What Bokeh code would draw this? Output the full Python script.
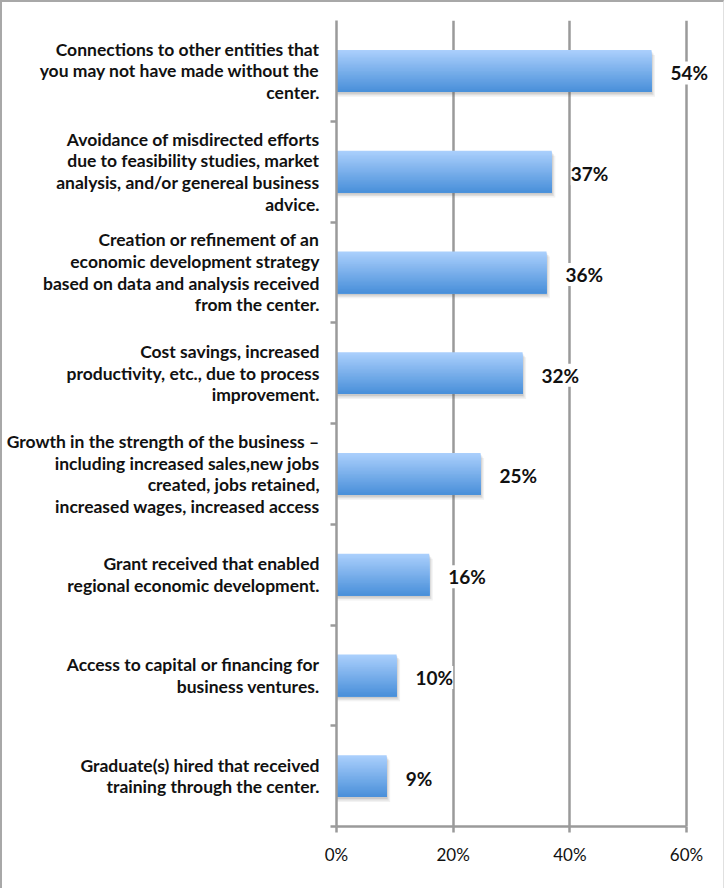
from bokeh.plotting import figure
from bokeh.models import Range1d, FixedTicker, PrintfTickFormatter, ColumnDataSource, LabelSet
from bokeh.core.properties import value
from bokeh.embed import file_html
from bokeh.resources import INLINE

categories = [
    "Connections to other entities that\nyou may not have made without the\ncenter.",
    "Avoidance of misdirected efforts\ndue to feasibility studies, market\nanalysis, and/or genereal business\nadvice.",
    "Creation or refinement of an\neconomic development strategy\nbased on data and analysis received\nfrom the center.",
    "Cost savings, increased\nproductivity, etc., due to process\nimprovement.",
    "Growth in the strength of the business \u2013\nincluding increased sales,new jobs\ncreated, jobs retained,\nincreased wages, increased access",
    "Grant received that enabled\nregional economic development.",
    "Access to capital or financing for\nbusiness ventures.",
    "Graduate(s) hired that received\ntraining through the center.",
]
values = [54.0, 36.9, 36.0, 31.9, 24.7, 15.9, 10.3, 8.6]
value_labels = ["54%", "37%", "36%", "32%", "25%", "16%", "10%", "9%"]
x_ticks = [0, 20, 40, 60]

n = len(categories)
ys = list(range(n))

FONT = "Lato"
GRAY = "#9a9a9a"
AXIS_MAX = 60
FRAME_W = 387
PX_PER_UNIT = 350 / AXIS_MAX

p = figure(
    frame_width=FRAME_W, frame_height=806,
    min_border_left=334, min_border_right=0, min_border_top=18, min_border_bottom=62,
    x_range=Range1d(0, FRAME_W / PX_PER_UNIT), y_range=Range1d(n - 0.5, -0.5),
    output_backend="svg", toolbar_location=None, tools="",
)
p.outline_line_color = None
p.background_fill_color = "white"
p.border_fill_color = "white"
p.styles = {"border-left": "2px solid #a8a8a8", "border-top": "2px solid #a8a8a8",
            "border-right": "1px solid #e0e0e0"}

# grid
p.ygrid.grid_line_color = None
p.xgrid.ticker = FixedTicker(ticks=x_ticks)
p.xgrid.grid_line_color = GRAY
p.xgrid.grid_line_width = 2.5

# x axis
p.xaxis.ticker = FixedTicker(ticks=x_ticks)
p.xaxis.bounds = (0, AXIS_MAX)
p.xaxis.formatter = PrintfTickFormatter(format="%d%%")
p.xaxis.axis_line_color = GRAY
p.xaxis.axis_line_width = 2.5
p.xaxis.major_tick_line_color = GRAY
p.xaxis.major_tick_line_width = 2.5
p.xaxis.major_tick_out = 6
p.xaxis.major_tick_in = 0
p.xaxis.minor_tick_line_color = None
p.xaxis.major_label_text_font = FONT
p.xaxis.major_label_text_font_size = "17px"
p.xaxis.major_label_text_color = "#111111"
p.xaxis.major_label_standoff = 11

# y axis
p.yaxis.ticker = FixedTicker(ticks=ys, minor_ticks=[i + 0.5 for i in ys])
p.yaxis.major_label_overrides = {i: c for i, c in enumerate(categories)}
p.yaxis.axis_line_color = GRAY
p.yaxis.axis_line_width = 2.5
p.yaxis.major_tick_line_color = None
p.yaxis.major_tick_out = 0
p.yaxis.major_tick_in = 0
p.yaxis.minor_tick_line_color = GRAY
p.yaxis.minor_tick_line_width = 2.5
p.yaxis.minor_tick_out = 6
p.yaxis.minor_tick_in = 0
p.yaxis.major_label_text_font = FONT
p.yaxis.major_label_text_font_style = "bold"
p.yaxis.major_label_text_font_size = "17.5px"
p.yaxis.major_label_text_color = "#111111"
p.yaxis.major_label_text_line_height = 1.03
p.yaxis.major_label_standoff = 11

# bars: shadow + vertical gradient (nested strips, no seams)
h = 0.415
for dx, dy, a in [(0.6, 0.05, 0.08), (0.35, 0.035, 0.12), (0.15, 0.02, 0.14)]:
    p.hbar(y=[y + dy for y in ys], height=h, left=0, right=[v + dx for v in values],
           fill_color="#555555", fill_alpha=a, line_color=None)

top = (0xAA, 0xCF, 0xFC)
bot = (0x4A, 0x90, 0xDA)
N = 30
for k in range(N):
    t = k / (N - 1)
    col = "#%02x%02x%02x" % tuple(int(round(top[j] + (bot[j] - top[j]) * t)) for j in range(3))
    top_off = -h / 2 + k * h / N
    hk = h / 2 - top_off
    p.hbar(y=[y + top_off + hk / 2 for y in ys], height=hk, left=0, right=values,
           fill_color=col, line_color=None)

src = ColumnDataSource(dict(x=values, y=ys, t=value_labels))
labels = LabelSet(x="x", y="y", text="t", source=src, x_offset=19, y_offset=-2,
                  text_align="left", text_baseline="middle",
                  text_font=value(FONT), text_font_style="bold", text_font_size="19px",
                  text_color="#111111",
                  background_fill_color="white")
p.add_layout(labels)

open("out.html", "w").write(file_html(p, INLINE))
